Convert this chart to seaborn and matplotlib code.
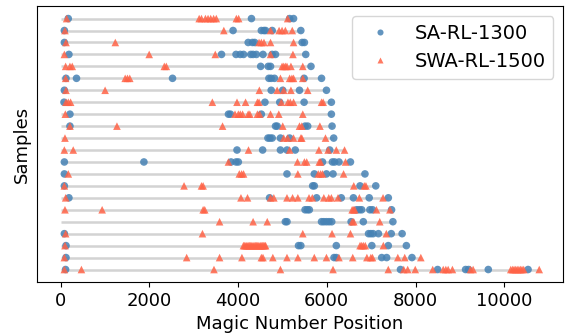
import numpy as np
import pandas as pd
import matplotlib
matplotlib.use('Agg')
import matplotlib.pyplot as plt
import seaborn as sns

models = ['SA-RL-1300', 'SWA-RL-1500']
colors = {'SA-RL-1300': 'steelblue', 'SWA-RL-1500': 'tomato'}

# positions per sample (top row first)
sa_pos = [
    [170, 4301, 5161, 5250],
    [82, 3886, 4524, 4583, 4620, 4768, 5414],
    [82, 4227, 4323, 4375, 5443, 5495],
    [185, 3626, 3953, 4049, 4123, 4286, 4338, 4412, 4561, 4768, 4843, 5525],
    [4509, 4679, 4731, 5643],
    [119, 356, 2521, 4694, 4746, 4820, 5488, 5881],
    [82, 4746, 5006, 5384, 5992],
    [74, 4605, 4939, 5488, 6103],
    [208, 3782, 3827, 4524, 6103],
    [208, 4843, 4880, 5510, 5569, 6118],
    [4672, 4717, 4768, 4954, 5161, 6155],
    [3975, 4553, 4954, 5102, 5288, 6066],
    [82, 1876, 3841, 3953, 4005, 5903, 6126, 6177, 6274, 6533],
    [82, 5102, 5718, 5992, 6140, 6860],
    [82, 5681, 5718, 6749, 7104],
    [185, 4709, 5770, 6326, 6600, 6956, 7387],
    [5510, 5562, 5606, 6674, 6734, 6786, 6971, 7030, 7460],
    [5065, 5102, 5881, 5933, 5992, 6051, 6111, 6548, 6823, 7490],
    [82, 6941, 6993, 7045, 7164, 7453, 7698],
    [119, 5362, 5414, 6214, 7015, 7386, 7794],
    [119, 6163, 6214, 7238, 7349, 7920],
    [110, 7661, 8499, 9129, 9196, 9641, 10538],
]
swa_pos = [
    [133, 3122, 3174, 3263, 3322, 3382, 3448, 3508, 3960, 4012, 5117],
    [96, 3678, 4731, 4924, 4991, 5065, 5221],
    [119, 1231, 4472, 4524, 4583, 4731, 5250],
    [82, 1995, 3485, 4731, 5236],
    [111, 208, 260, 2336, 2381, 4991, 5028, 5065, 5102, 5191, 5458],
    [111, 1454, 1505, 1557, 4954, 5162, 5213, 5250, 5458],
    [119, 1001, 4479, 4880, 5028, 5191, 5569],
    [119, 171, 223, 3419, 3975, 4168, 4435, 4472, 4976, 5124, 5176, 5250, 5881, 5918],
    [104, 3930, 4005, 4049, 4101, 4227, 4264, 4435, 4487, 4731, 4917, 5458],
    [208, 1268, 3649, 5006, 5384, 5436, 5844],
    [96, 5028, 5117, 5250, 5414, 5436, 5970],
    [82, 282, 4234, 5162, 5822, 6029, 6214, 6400],
    [3782, 5339, 5495, 5547, 5829, 5859, 6422],
    [171, 4027, 4079, 4123, 5347, 5807, 5859, 5903, 6378],
    [82, 2781, 3174, 3211, 6608, 6845, 6882],
    [111, 4064, 4212, 4731, 4806, 5102, 5228, 5347, 5599, 5673, 5933, 6044, 6103, 6252, 6734, 7268],
    [96, 934, 3211, 3248, 6571, 6600, 6630, 7119, 7423],
    [3582, 4338, 4657, 6571, 6608, 7194],
    [111, 3196, 5458, 6118, 6533, 7342],
    [96, 4120, 4148, 4177, 4201, 4228, 4256, 4283, 4309, 4336, 4362, 4391, 4416, 4442, 4468, 4497, 4521, 4548, 4574, 4601, 4620,
     6749, 6786, 6823, 6867, 7275],
    [82, 2840, 3582, 4086, 4524, 4561, 4783, 5102, 5347, 5718, 5992, 6274, 6585, 6904, 6993, 7030, 7601, 7757, 8120],
    [82, 467, 3456, 4954, 6140, 7386, 7735, 7824, 7994, 8388, 8625, 8684, 8736, 8832, 9240, 9299,
     10148, 10190, 10222, 10259, 10293, 10331, 10368, 10402, 10440, 10790],
]

rows = []
for i, (a, b) in enumerate(zip(sa_pos, swa_pos)):
    for v in a:
        rows.append((i, v, models[0]))
    for v in b:
        rows.append((i, v, models[1]))
df = pd.DataFrame(rows, columns=['sample', 'position', 'model'])

plt.rcParams['font.size'] = 13
fig, ax = plt.subplots(figsize=(5.66, 3.35), dpi=100)

ends = df.groupby('sample')['position'].max()
ax.hlines(ends.index, 0, ends.values, color='lightgray', lw=1.8, zorder=0)

sns.scatterplot(data=df, x='position', y='sample', hue='model', style='model',
                markers={'SA-RL-1300': 'o', 'SWA-RL-1500': '^'}, palette=colors,
                s=30, alpha=0.85, edgecolor='none', ax=ax)

ax.invert_yaxis()
ax.set_yticks([])
ax.set_xticks([0, 2000, 4000, 6000, 8000, 10000])
ax.set_xlabel('Magic Number Position')
ax.set_ylabel('Samples')
leg = ax.legend(loc='upper right', fontsize=14, markerscale=0.8)
leg.set_title(None)

plt.subplots_adjust(left=0.065, right=0.995, top=0.982, bottom=0.158)
plt.savefig('out.png')
